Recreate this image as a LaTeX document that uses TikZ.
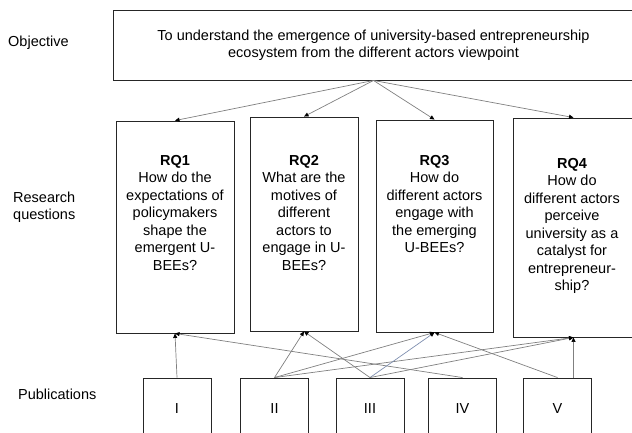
\documentclass[tikz,border=0pt]{standalone}
\usepackage{fontspec}
\setmainfont{Liberation Sans}
\usepackage{tikz}
\usetikzlibrary{arrows.meta, positioning}
\definecolor{linkblue}{HTML}{7F8FB0}

\begin{document}
\begin{tikzpicture}[x=1pt, y=-1pt,
    every node/.style={font=\fontsize{14.5}{17.5}\selectfont},
    box/.style={draw=black!85, line width=0.9pt, inner sep=0pt},
    rqtext/.style={anchor=north, align=center, inner sep=0pt},
    side/.style={anchor=west, align=left, inner sep=0pt},
    link/.style={draw=black!50, line width=0.7pt, -{Triangle[length=4.5pt,width=4pt,color=black]}}]
  \useasboundingbox (0,0) rectangle (632,432);
  % row labels
  \node[side] (lobj) at (8,43) {Objective};
  \node[side] (lrq) at (13,207) {Research\\questions};
  \node[side] (lpub) at (18,394) {Publications};
  % objective
  \node[box, align=center, minimum width=521, minimum height=70] (obj) at (373.5,45)
    {To understand the emergence of university-based entrepreneurship\\ecosystem from the different actors viewpoint};
  % research questions
  \node[box, minimum width=118, minimum height=212] (rq1) at (175,227) {};
  \node[box, minimum width=108, minimum height=214] (rq2) at (304,224) {};
  \node[box, minimum width=117, minimum height=212] (rq3) at (434.5,226) {};
  \node[box, minimum width=121, minimum height=219] (rq4) at (573.5,227.5) {};
  \node[rqtext] (rq1txt) at (175,155) {\textbf{RQ1}\\How do the\\expectations of\\policymakers\\shape the\\emergent U-\\BEEs?};
  \node[rqtext] (rq2txt) at (304,155) {\textbf{RQ2}\\What are the\\motives of\\different\\actors to\\engage in U-\\BEEs?};
  \node[rqtext] (rq3txt) at (434.5,155) {\textbf{RQ3}\\How do\\different actors\\engage with\\the emerging\\U-BEEs?};
  \node[rqtext] (rq4txt) at (572,158) {\textbf{RQ4}\\How do\\different actors\\perceive\\university as a\\catalyst for\\entrepreneur-\\ship?};
  % publications
  \foreach \n/\lab/\x in {p1/I/177, p2/II/274.5, p3/III/370, p4/IV/462.5, p5/V/557.5} {
    \node[box, minimum width=68, minimum height=62] (\n) at (\x,409) {\lab};
  }
  % objective -> questions
  \foreach \r in {rq1,rq2,rq3,rq4} {
    \draw[link] (obj.south) -- (\r.north);
  }
  % publications -> questions
  \draw[link] (p1.north) -- (rq1.south);
  \draw[link] (p4.north) -- (rq1.south);
  \foreach \r in {rq2,rq3,rq4} {
    \draw[link] (p2.north) -- (\r.south);
  }
  \draw[link] (p3.north) -- (rq2.south);
  \draw[link, draw=linkblue] (p3.north) -- (rq3.south);
  \draw[link] (p3.north) -- (rq4.south);
  \draw[link] (p5.north) -- (rq3.south);
  \draw[link] (rq4.south |- p5.north) -- (rq4.south);
\end{tikzpicture}
\end{document}
